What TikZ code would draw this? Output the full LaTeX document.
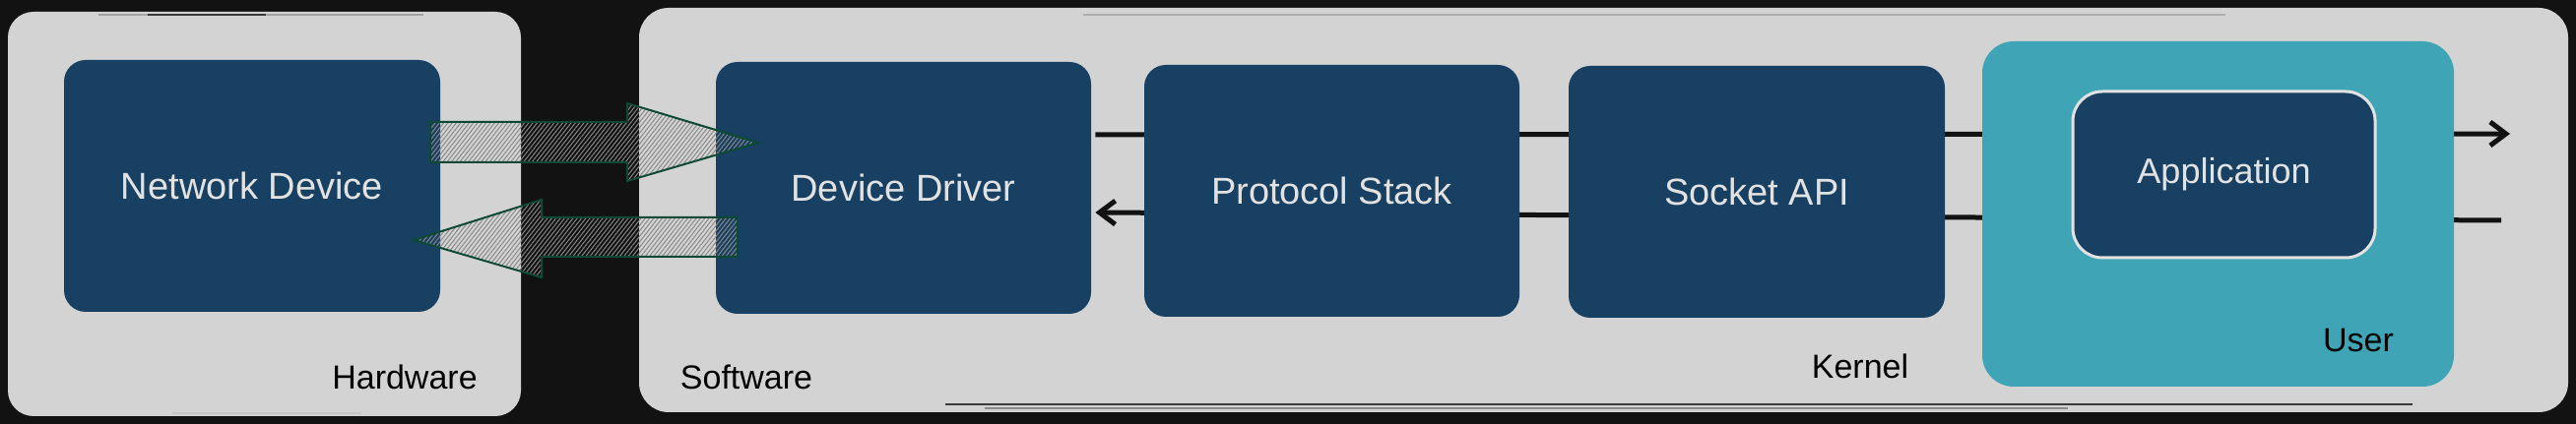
\documentclass[tikz,border=0pt]{standalone}
\usepackage{fontspec}
\setmainfont{Liberation Sans}
\usetikzlibrary{fit,arrows.meta,patterns.meta,calc}
\definecolor{bgdark}{HTML}{121212}
\definecolor{panel}{HTML}{D3D3D3}
\definecolor{navy}{HTML}{174062}
\definecolor{tealuser}{HTML}{3FA5B6}
\definecolor{lighttext}{HTML}{E2E2E2}
\definecolor{arrowgreen}{HTML}{0E4A33}
\definecolor{hatchgray}{HTML}{888888}
\definecolor{sketchdark}{HTML}{3A3A3A}
\definecolor{sketchlight}{HTML}{8C8C8C}
\begin{document}
\begin{tikzpicture}[x=0.5pt,y=-0.5pt,
  panelbox/.style={fill=panel, draw=none, rounded corners=13pt, inner sep=0pt},
  navybox/.style={fill=navy, draw=none, rounded corners=11pt, inner sep=0pt},
  boxtext/.style={text=lighttext, font=\fontsize{19}{22}\selectfont, inner sep=0pt},
  apptext/.style={text=lighttext, font=\fontsize{18}{22}\selectfont, inner sep=0pt},
  userbox/.style={fill=tealuser, draw=none, rounded corners=16pt, inner sep=0pt},
  appbox/.style={fill=navy, draw=lighttext, line width=1.5pt, rounded corners=15pt, inner sep=0pt},
  grouplabel/.style={text=black, font=\fontsize{17}{20}\selectfont, inner sep=0pt},
  blockarrow/.style={draw=arrowgreen, line width=1pt, line join=miter, pattern={Lines[angle=52,distance=1.7pt,line width=0.5pt]}, pattern color=hatchgray, fill opacity=0.6},
  flow/.style={draw=bgdark, line width=2.5pt},
  flowtip/.style={-{Straight Barb[length=8pt,width=12pt]}},
  sketchline/.style={line width=0.6pt}
]
% background
\fill[bgdark] (0,0) rectangle (2616,431);
\useasboundingbox (0,0) rectangle (2616,431);

% group panels
\node[panelbox, fit={(8,12) (529,423)}] (hw) {};
\node[panelbox, rounded corners=15pt, fit={(649,8) (2608,419)}] (sw) {};

% sketchy outline strokes
\draw[sketchline, sketchlight!80] (100,15) -- (430,15);
\draw[sketchline, sketchdark] (150,15) -- (270,15);
\draw[sketchline, sketchlight!50] (175,420) -- (367,420);
\draw[sketchline, sketchlight!70] (1100,15) -- (2260,15);
\draw[sketchline, sketchdark] (960,411) -- (2450,411);
\draw[sketchline, sketchlight] (1000,415) -- (2100,415);

% left components
\node[navybox, fit={(65,61) (447,317)}, label={[boxtext]center:Network Device}] (nd) {};
\node[navybox, fit={(727,63) (1108,319)}, label={[boxtext]center:Device Driver}] (dd) {};

% thin flow arrows (run beneath the later boxes)
\coordinate (outtop) at (2549,136);
\coordinate (outbot) at (2540,224);
\draw[flow, flowtip] ($(dd.east)+(4,-54)$) -- (outtop);
\draw[flow, flowtip] (outbot) -- ($(dd.east)+(4,25)$);

% remaining components
\node[navybox, fit={(1162,66) (1543,322)}, label={[boxtext]center:Protocol Stack}] (ps) {};
\node[navybox, fit={(1593,67) (1975,323)}, label={[boxtext]center:Socket API}] (sa) {};
\node[userbox, fit={(2013,42) (2492,393)}] (user) {};
\node[appbox, fit={(2105,93) (2412,262)}, label={[apptext]center:Application}] (app) {};

% group labels
\node[grouplabel] (lhw) at (411,383) {Hardware};
\node[grouplabel] (lsw) at (758,383) {Software};
\node[grouplabel] (lkn) at (1889,372) {Kernel};
\node[grouplabel] (lus) at (2395,346) {User};

% block arrows between Network Device and Device Driver
\draw[blockarrow] (437,124) -- (637,124) -- (637,105) -- (770,145) -- (637,184) -- (637,165) -- (437,165) -- cycle;
\draw[blockarrow] (749,221) -- (550,221) -- (550,203) -- (420,244) -- (550,282) -- (550,261) -- (749,261) -- cycle;
\end{tikzpicture}
\end{document}
